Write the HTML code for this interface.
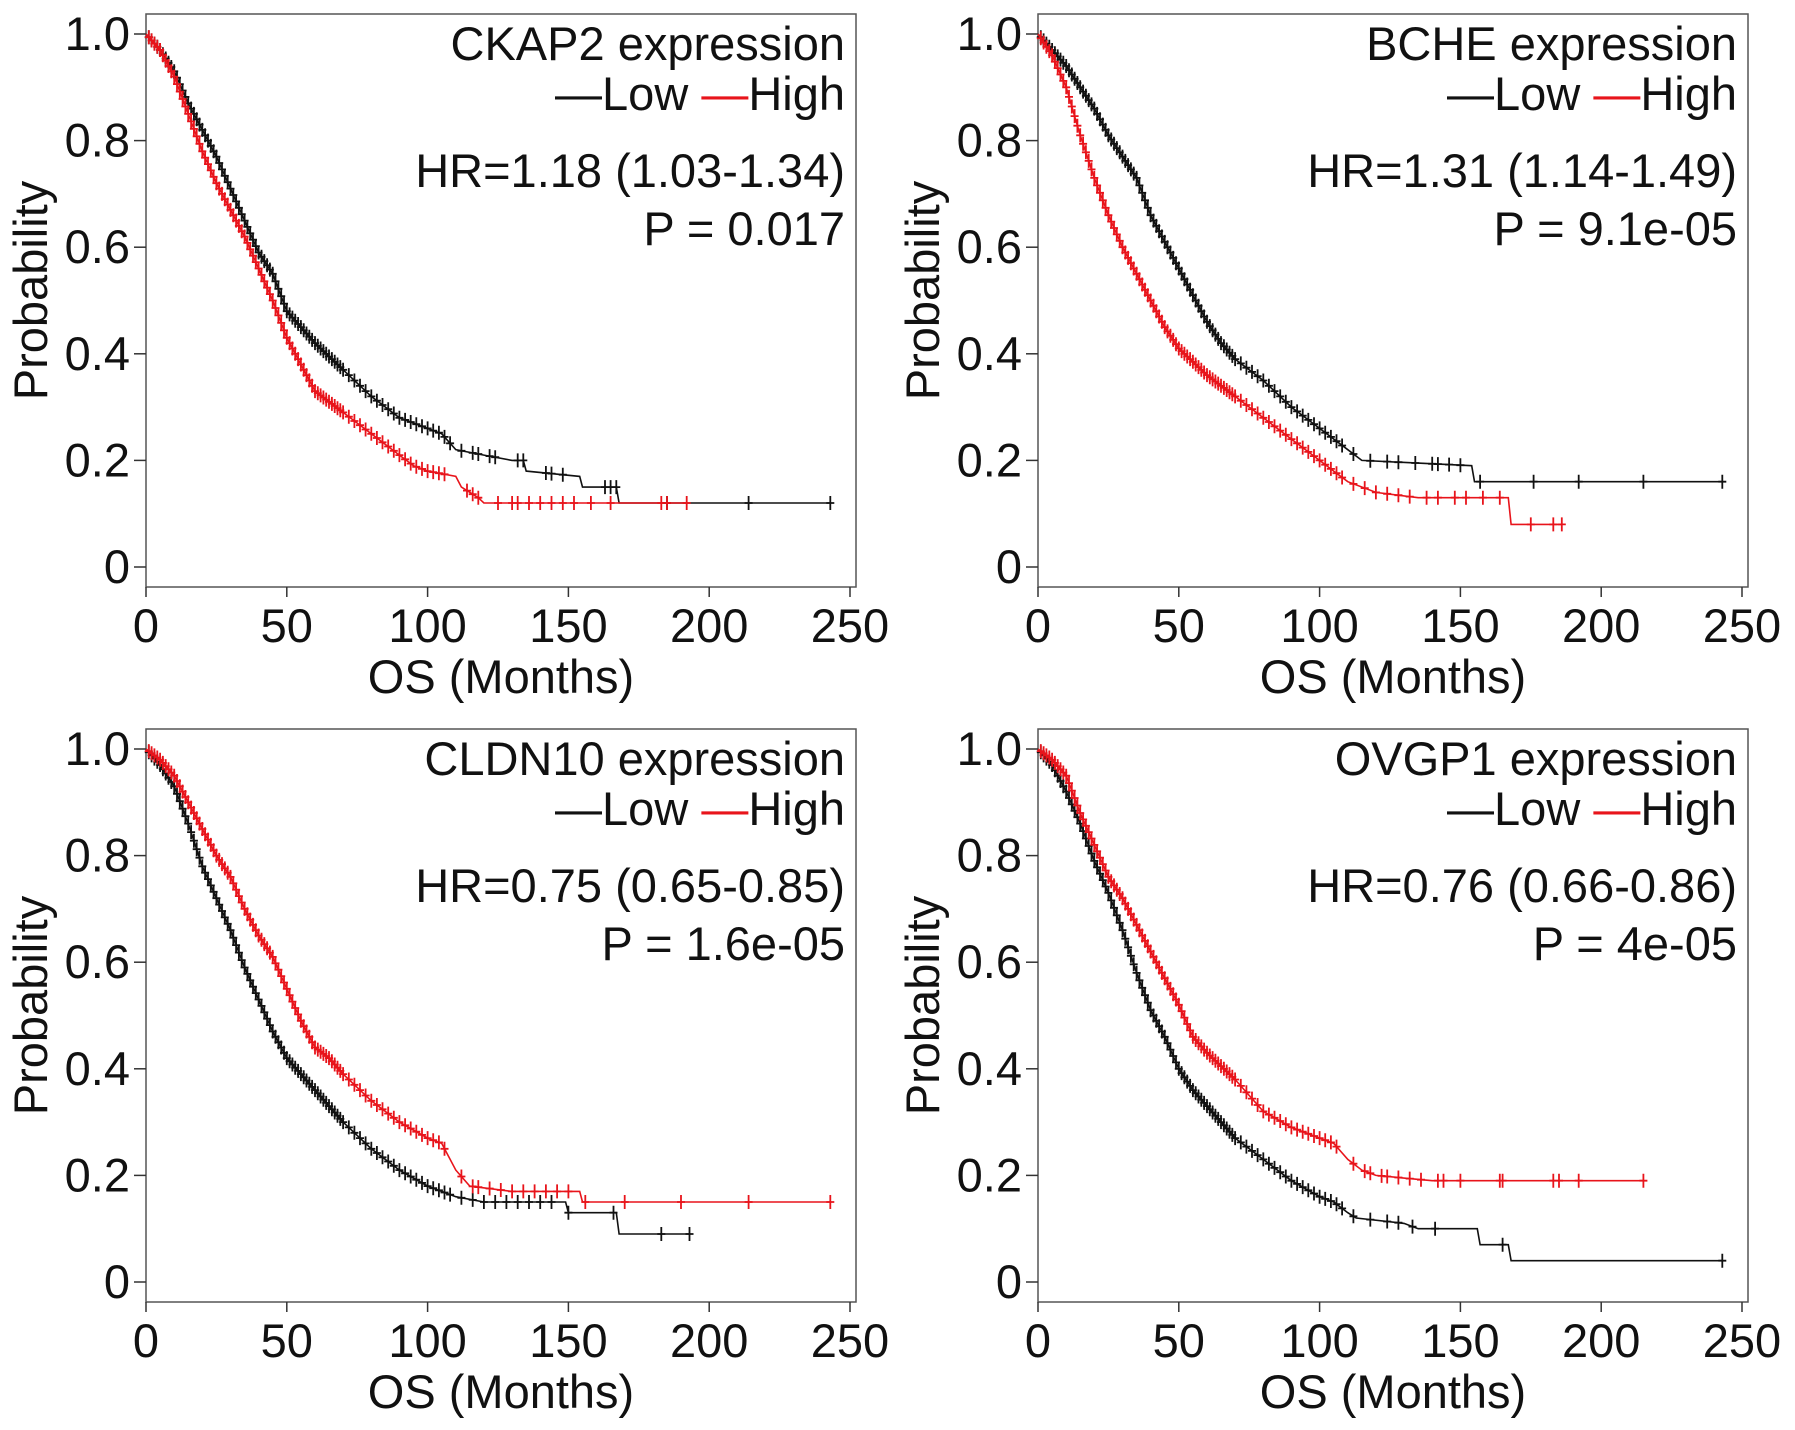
<!DOCTYPE html>
<html><head><meta charset="utf-8"><style>
html,body{margin:0;padding:0;background:#fff}
svg{display:block;font-family:"Liberation Sans",Arial,sans-serif}
</style></head><body>
<svg id="fig" width="1795" height="1430" viewBox="0 0 1795 1430" xmlns="http://www.w3.org/2000/svg"></svg>
<script>
// ---- data (months, survival probability) ----
const xTicks = [0, 50, 100, 150, 200, 250];
const yTicks = [0, 0.2, 0.4, 0.6, 0.8, 1.0];
const yTickLabels = ["0", "0.2", "0.4", "0.6", "0.8", "1.0"];
const geneNames = ["CKAP2", "BCHE", "CLDN10", "OVGP1"];
const hrLabels = ["HR=1.18 (1.03-1.34)", "HR=1.31 (1.14-1.49)", "HR=0.75 (0.65-0.85)", "HR=0.76 (0.66-0.86)"];
const pLabels = ["P = 0.017", "P = 9.1e-05", "P = 1.6e-05", "P = 4e-05"];

const ckap2LowT = [0,5,10,15,20,25,30,35,40,45,50,55,60,70,80,90,100,105,110,120,130,134,135,154,155,167,168,243];
const ckap2LowS = [1,0.97,0.93,0.87,0.82,0.77,0.71,0.65,0.59,0.55,0.48,0.45,0.42,0.37,0.32,0.28,0.26,0.25,0.22,0.21,0.20,0.20,0.18,0.17,0.15,0.15,0.12,0.12];
const ckap2HighT = [0,5,10,15,20,25,30,35,40,45,50,55,60,65,70,80,90,95,100,110,112,118,120,192];
const ckap2HighS = [1,0.97,0.92,0.85,0.78,0.72,0.67,0.62,0.56,0.50,0.43,0.38,0.33,0.31,0.29,0.25,0.21,0.19,0.18,0.17,0.15,0.13,0.12,0.12];
const bcheLowT = [0,5,10,15,20,25,30,35,40,45,50,55,60,65,70,80,90,100,110,115,154,155,243];
const bcheLowS = [1,0.97,0.94,0.90,0.86,0.81,0.77,0.73,0.66,0.61,0.56,0.51,0.46,0.42,0.39,0.35,0.30,0.26,0.22,0.20,0.19,0.16,0.16];
const bcheHighT = [0,5,10,15,20,25,30,35,40,45,50,60,70,80,90,100,105,110,120,135,167,168,186];
const bcheHighS = [1,0.96,0.90,0.81,0.73,0.66,0.60,0.55,0.50,0.45,0.41,0.36,0.32,0.28,0.24,0.20,0.18,0.16,0.14,0.13,0.13,0.08,0.08];
const cldn10LowT = [0,5,10,15,20,25,30,35,40,45,50,55,60,70,80,90,100,110,120,149,150,167,168,193];
const cldn10LowS = [1,0.97,0.93,0.86,0.78,0.72,0.66,0.59,0.53,0.47,0.42,0.39,0.36,0.30,0.25,0.21,0.18,0.16,0.15,0.15,0.13,0.13,0.09,0.09];
const cldn10HighT = [0,5,10,15,20,25,30,35,40,45,50,55,60,65,70,80,90,100,105,110,115,130,154,155,243];
const cldn10HighS = [1,0.98,0.95,0.90,0.85,0.80,0.76,0.70,0.65,0.61,0.55,0.49,0.44,0.42,0.39,0.34,0.30,0.27,0.26,0.21,0.18,0.17,0.17,0.15,0.15];
const ovgp1LowT = [0,5,10,15,20,25,30,35,40,45,50,55,60,70,80,90,100,105,110,113,130,135,156,157,167,168,243];
const ovgp1LowS = [1,0.97,0.92,0.86,0.79,0.73,0.66,0.58,0.51,0.46,0.40,0.36,0.33,0.27,0.23,0.19,0.16,0.15,0.13,0.12,0.11,0.10,0.10,0.07,0.07,0.04,0.04];
const ovgp1HighT = [0,5,10,15,20,25,30,35,40,45,50,55,60,70,80,90,100,105,110,115,120,140,215];
const ovgp1HighS = [1,0.98,0.95,0.88,0.82,0.76,0.72,0.67,0.62,0.57,0.52,0.46,0.43,0.38,0.32,0.29,0.27,0.26,0.23,0.21,0.20,0.19,0.19];

// censoring times
const censorEarly = [1,2,3,4,5,6,7,8,9,10,11,12,13,14,15,16,17,18,19,20,21,22,23,24,25,26,27,28,29,30,31,32,33,34,35,36,37,38,39,40,41,42,43,44,45,46,47,48,49,50,51,52,53,54,55,56,57,58,59,60,61,62,63,64,65,66,67,68,69,70,72,74,76,78,80,82,84,86,88,90,92,94,96,98,100,102,104,106];
const ckap2LowC = [108,112,116,118,122,124,132,134,142,144,148,163,165,167,185,214,243];
const ckap2HighC = [114,116,118,125,130,132,136,140,144,148,152,158,165,183,185,192];
const bcheLowC = [108,112,118,124,128,134,140,142,146,150,157,176,192,215,243];
const bcheHighC = [108,112,116,120,124,128,132,138,142,148,152,158,164,175,183,186];
const cldn10LowC = [108,112,116,120,124,128,132,136,140,144,150,166,183,193];
const cldn10HighC = [112,116,118,122,126,130,134,138,142,146,150,156,170,190,214,243];
const ovgp1LowC = [108,112,118,124,128,133,141,165,243];
const ovgp1HighC = [112,116,118,122,124,128,132,136,142,144,150,164,165,183,185,192,215];

const panels = [
  {ox:146, oy:14, low:[ckap2LowT,ckap2LowS,ckap2LowC], high:[ckap2HighT,ckap2HighS,ckap2HighC]},
  {ox:1038, oy:14, low:[bcheLowT,bcheLowS,bcheLowC], high:[bcheHighT,bcheHighS,bcheHighC]},
  {ox:146, oy:729, low:[cldn10LowT,cldn10LowS,cldn10LowC], high:[cldn10HighT,cldn10HighS,cldn10HighC]},
  {ox:1038, oy:729, low:[ovgp1LowT,ovgp1LowS,ovgp1LowC], high:[ovgp1HighT,ovgp1HighS,ovgp1HighC]}
];

const NS = "http://www.w3.org/2000/svg";
const svg = document.getElementById("fig");
const FW = 710, FH = 573, FS = 47;
function mk(tag, attrs, parent){
  const e = document.createElementNS(NS, tag);
  for (const k in attrs) e.setAttribute(k, attrs[k]);
  parent.appendChild(e);
  return e;
}
function survAt(T, S, t){
  for (let i = 1; i < T.length; i++){
    if (t <= T[i]){
      const f = (T[i] === T[i-1]) ? 1 : (t - T[i-1]) / (T[i] - T[i-1]);
      return S[i-1] + f * (S[i] - S[i-1]);
    }
  }
  return S[S.length-1];
}

panels.forEach((p, idx) => {
  const g = mk("g", {}, svg);
  
  
  const xs = t => p.ox + t * 704 / 250;
  const ys = v => p.oy + FH - 20 - v * (FH - 40);

  const frame = mk("rect", {x:p.ox, y:p.oy, width:FW, height:FH, fill:"none", stroke:"#555", "stroke-width":1.5}, g);
  
  

  yTicks.forEach((v, i) => {
    const tk = mk("line", {x1:p.ox-12, x2:p.ox, y1:ys(v), y2:ys(v), stroke:"#333", "stroke-width":1.5}, g);
    
    
    const tl = mk("text", {x:p.ox-16, y:ys(v)+16, "text-anchor":"end", "font-size":FS, fill:"#111"}, g);
    tl.textContent = yTickLabels[i];
    
    
  });
  xTicks.forEach(v => {
    const tk = mk("line", {x1:xs(v), x2:xs(v), y1:p.oy+FH, y2:p.oy+FH+10, stroke:"#333", "stroke-width":1.5}, g);
    
    
    const tl = mk("text", {x:xs(v), y:p.oy+FH+55, "text-anchor":"middle", "font-size":FS, fill:"#111"}, g);
    tl.textContent = String(v);
    
    
  });
  const xt = mk("text", {x:p.ox+FW/2, y:p.oy+FH+106, "text-anchor":"middle", "font-size":FS, fill:"#111"}, g);
  xt.textContent = "OS (Months)";
  
  
  const yt = mk("text", {x:0, y:0, "text-anchor":"middle", "font-size":FS, fill:"#111",
    transform:"translate(" + (p.ox-99) + "," + (p.oy+FH/2 - 10) + ") rotate(-90)"}, g);
  yt.textContent = "Probability";
  
  

  [["low","#111"],["high","#e8141b"]].forEach(([key, col]) => {
    const [T, S, C] = p[key];
    let d = "M" + xs(T[0]) + "," + ys(S[0]);
    for (let i = 1; i < T.length; i++){
      d += " L" + xs(T[i]).toFixed(1) + "," + ys(S[i]).toFixed(1);
    }
    const path = mk("path", {d:d, fill:"none", stroke:col, "stroke-width":1.6}, g);
    
    
    const tMax = T[T.length-1];
    const cens = censorEarly.filter(t => t < tMax).concat(C);
    let cd = "";
    cens.forEach(t => {
      const cx = xs(t), cy = ys(survAt(T, S, t));
      cd += "M" + cx.toFixed(1) + "," + (cy-7).toFixed(1) + "v14 M" + (cx-4).toFixed(1) + "," + cy.toFixed(1) + "h8 ";
    });
    const cm = mk("path", {d:cd, fill:"none", stroke:col, "stroke-width":1.8}, g);
    
    
  });

  const right = p.ox + FW - 11;
  const t1 = mk("text", {x:right, y:p.oy+46, "text-anchor":"end", "font-size":FS, fill:"#111"}, g);
  t1.textContent = geneNames[idx] + " expression";
  
  
  const t2 = mk("text", {x:right, y:p.oy+96, "text-anchor":"end", "font-size":FS, fill:"#111"}, g);
  
  
  const s1 = mk("tspan", {fill:"#111"}, t2); s1.textContent = "\u2014Low  ";
  const s2 = mk("tspan", {fill:"#e8141b"}, t2); s2.textContent = "\u2014";
  const s3 = mk("tspan", {fill:"#111"}, t2); s3.textContent = "High";
  const t3 = mk("text", {x:right, y:p.oy+173, "text-anchor":"end", "font-size":FS, fill:"#111"}, g);
  t3.textContent = hrLabels[idx];
  
  
  const t4 = mk("text", {x:right, y:p.oy+231, "text-anchor":"end", "font-size":FS, fill:"#111"}, g);
  t4.textContent = pLabels[idx];
  
  
});
</script>
</body></html>
